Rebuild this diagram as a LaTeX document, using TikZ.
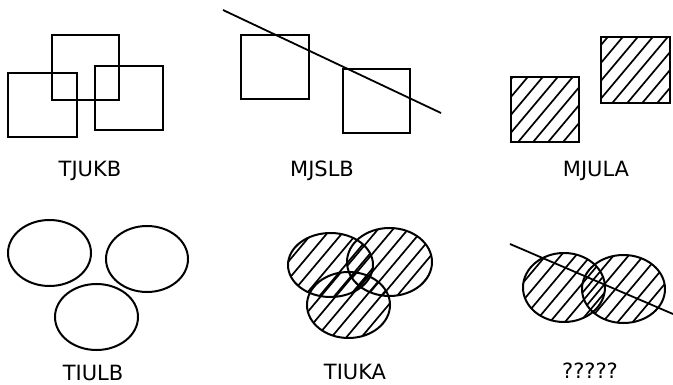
\documentclass[tikz,border=0pt]{standalone}
\usepackage{fontspec}
\setmainfont{DejaVu Sans}
\begin{document}
\begin{tikzpicture}[x=1pt,y=-1pt,
  outline/.style={draw=black, line width=2pt},
  hatchline/.style={draw=black, line width=1.7pt},
  cutline/.style={draw=black, line width=1.8pt},
  caption/.style={font=\fontsize{21}{25}\selectfont, inner sep=0pt, anchor=base}]
\useasboundingbox (0,0) rectangle (673,385);

% slanted hatching around a centre point (x, y) with a phase shift
\newcommand\hatchat[3]{%
  \foreach \i in {-105,-90,...,105}
    \draw[hatchline] (#1+\i+#3-42,#2+50) -- (#1+\i+#3+42,#2-50);}

% --- three overlapping empty squares
\draw[outline] (8,73) rectangle (77,137);
\draw[outline] (52,35) rectangle (119,100);
\draw[outline] (95,66) rectangle (163,130);
\node[caption] (tjukb) at (90,177) {TJUKB};

% --- two empty squares crossed by a line
\draw[outline] (241,35) rectangle (309,99);
\draw[outline] (343,69) rectangle (410,133);
\coordinate (cutA1) at (223,10);
\coordinate (cutA2) at (441,113);
\draw[cutline] (cutA1) -- (cutA2);
\node[caption] (mjslb) at (322,177) {MJSLB};

% --- two hatched squares
\begin{scope}
  \clip (511,77) rectangle (579,142);
  \hatchat{545}{110}{0}
\end{scope}
\begin{scope}
  \clip (601,37) rectangle (670,103);
  \hatchat{635}{70}{5}
\end{scope}
\draw[outline] (511,77) rectangle (579,142);
\draw[outline] (601,37) rectangle (670,103);
\node[caption] (mjula) at (596,177) {MJULA};

% --- three separate empty ellipses
\draw[outline] (49.5,253) ellipse [x radius=41.5pt, y radius=33pt];
\draw[outline] (147,259) ellipse [x radius=41pt, y radius=33pt];
\draw[outline] (96.5,317) ellipse [x radius=41.5pt, y radius=33pt];
\node[caption] (tiulb) at (93,380) {TIULB};

% --- three overlapping hatched ellipses
\begin{scope}
  \clip (330.5,265) ellipse [x radius=42.5pt, y radius=32pt];
  \hatchat{330.5}{265}{0}
\end{scope}
\begin{scope}
  \clip (389.5,262) ellipse [x radius=42.5pt, y radius=34pt];
  \hatchat{389.5}{262}{6}
\end{scope}
\begin{scope}
  \clip (348.5,305) ellipse [x radius=41.5pt, y radius=33pt];
  \hatchat{348.5}{305}{10}
\end{scope}
\draw[outline] (330.5,265) ellipse [x radius=42.5pt, y radius=32pt];
\draw[outline] (389.5,262) ellipse [x radius=42.5pt, y radius=34pt];
\draw[outline] (348.5,305) ellipse [x radius=41.5pt, y radius=33pt];
\node[caption] (tiuka) at (355,379) {TIUKA};

% --- two overlapping hatched ellipses crossed by a line
\begin{scope}
  \clip (564,287.5) ellipse [x radius=41pt, y radius=34.5pt];
  \hatchat{564}{287.5}{0}
\end{scope}
\begin{scope}
  \clip (623.5,289) ellipse [x radius=41.5pt, y radius=34pt];
  \hatchat{623.5}{289}{7}
\end{scope}
\draw[outline] (564,287.5) ellipse [x radius=41pt, y radius=34.5pt];
\draw[outline] (623.5,289) ellipse [x radius=41.5pt, y radius=34pt];
\coordinate (cutB1) at (510,244);
\coordinate (cutB2) at (673,314);
\draw[cutline] (cutB1) -- (cutB2);
\node[caption] (qmarks) at (590,378) {?????};
\end{tikzpicture}
\end{document}
